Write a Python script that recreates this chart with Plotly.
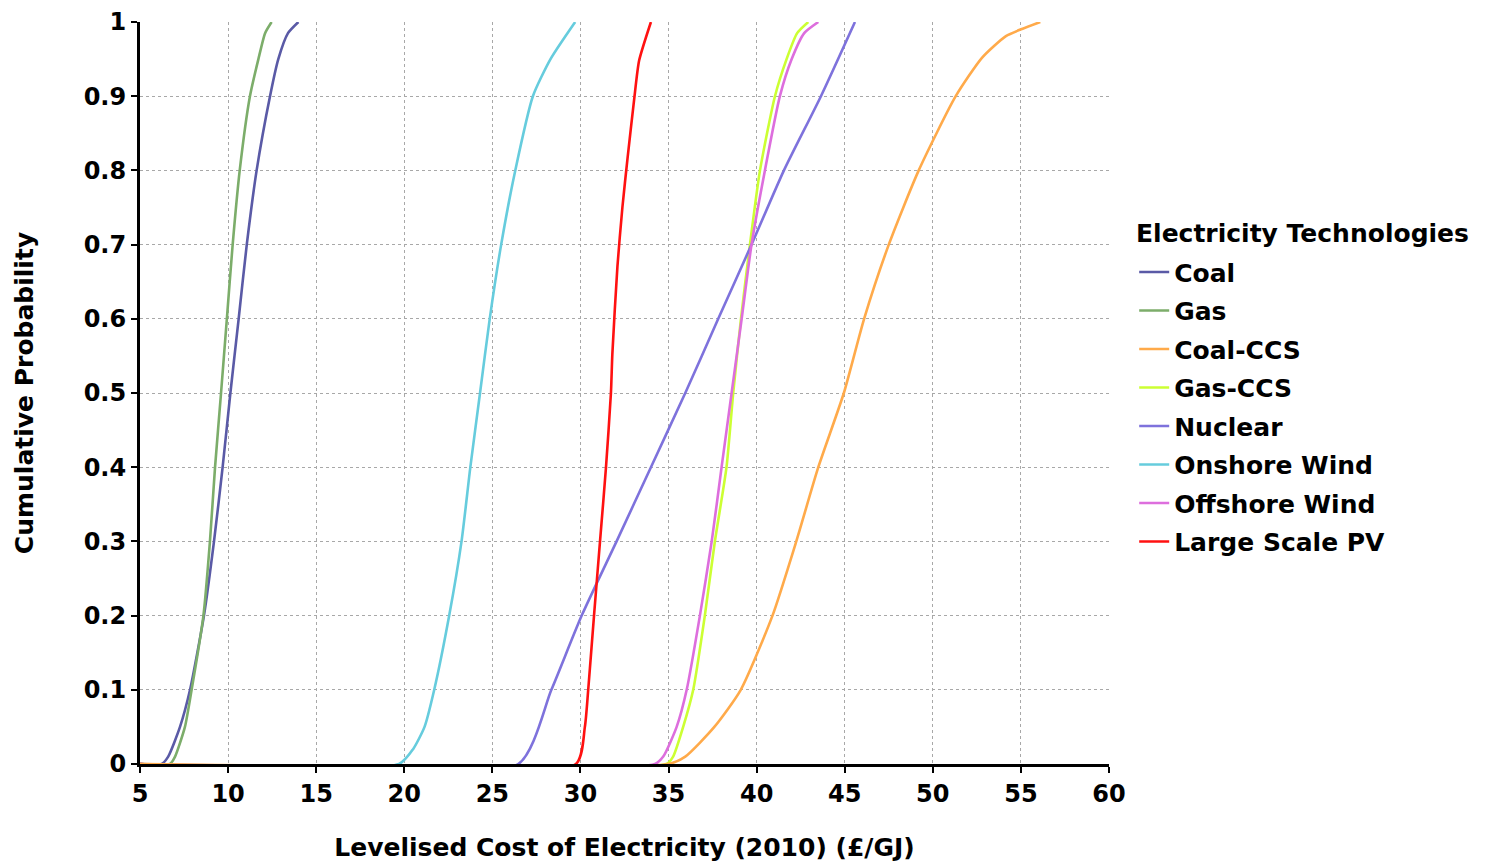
import plotly.graph_objects as go

# Levelised cost (£/GJ) at selected cumulative probability levels, per technology
coal_cost = [5, 6.23, 6.6, 7.27, 7.84, 8.63, 9.2, 9.69, 10.13, 10.6, 11.06, 11.62, 12.38, 12.85, 13.4, 13.99]
coal_prob = [0, 0, 0.01, 0.05, 0.1, 0.2, 0.3, 0.4, 0.5, 0.6, 0.7, 0.8, 0.9, 0.95, 0.985, 1.0]

gas_cost = [5, 6.7, 6.99, 7.55, 7.93, 8.6, 8.97, 9.26, 9.6, 9.93, 10.26, 10.66, 11.24, 11.72, 12.1, 12.47]
gas_prob = [0, 0, 0.01, 0.05, 0.1, 0.2, 0.3, 0.4, 0.5, 0.6, 0.7, 0.8, 0.9, 0.95, 0.985, 1.0]

coalccs_cost = [5, 35.0, 35.95, 37.6, 39.1, 40.9, 42.25, 43.5, 44.95, 46.1, 47.5, 49.2,
                51.3, 52.8, 54.15, 55.1, 56.1]
coalccs_prob = [0, 0, 0.01, 0.05, 0.1, 0.2, 0.3, 0.4, 0.5, 0.6, 0.7, 0.8,
                0.9, 0.952, 0.981, 0.991, 1.0]

gasccs_cost = [5, 34.88, 35.26, 35.83, 36.4, 37.06, 37.63, 38.29, 38.67, 39.11, 39.62, 40.19,
               41.04, 41.7, 42.3, 42.93]
gasccs_prob = [0, 0, 0.01, 0.05, 0.1, 0.2, 0.3, 0.4, 0.5, 0.6, 0.7, 0.8,
               0.9, 0.95, 0.985, 1.0]

nuclear_cost = [5, 26.47, 28.35, 30.07, 32.05, 34.0, 35.95, 37.82, 39.71, 41.55, 43.65, 45.58]
nuclear_prob = [0, 0, 0.1, 0.2, 0.3, 0.4, 0.5, 0.6, 0.7, 0.8, 0.9, 1.0]

onshore_cost = [5, 19.7, 20.5, 21.15, 21.7, 22.55, 23.25, 23.75, 24.3, 24.85, 25.5, 26.3,
                27.3, 28.3, 29.7]
onshore_prob = [0, 0, 0.02, 0.05, 0.1, 0.2, 0.3, 0.4, 0.5, 0.6, 0.7, 0.8, 0.9, 0.95, 1.0]

offshore_cost = [5, 34.23, 34.7, 35.46, 36.03, 36.78, 37.45, 38.01, 38.58, 39.15, 39.71, 40.47,
                 41.32, 41.99, 42.7, 43.5]
offshore_prob = [0, 0, 0.01, 0.05, 0.1, 0.2, 0.3, 0.4, 0.5, 0.6, 0.7, 0.8,
                 0.9, 0.95, 0.985, 1.0]

pv_cost = [5, 29.74, 30.25, 30.44, 30.77, 31.11, 31.45, 31.73, 31.81, 32.1, 32.38, 32.67, 33.05,
           33.33, 34.0]
pv_prob = [0, 0, 0.05, 0.1, 0.2, 0.3, 0.4, 0.5, 0.552, 0.671, 0.75, 0.816, 0.896, 0.948, 1.0]

x_ticks = [5, 10, 15, 20, 25, 30, 35, 40, 45, 50, 55, 60]
y_ticks = [0, 0.1, 0.2, 0.3, 0.4, 0.5, 0.6, 0.7, 0.8, 0.9, 1]
y_labels = ["0", "0.1", "0.2", "0.3", "0.4", "0.5", "0.6", "0.7", "0.8", "0.9", "1"]

series = [
    ("Coal", coal_cost, coal_prob, "#5a5aa6", 1),
    ("Gas", gas_cost, gas_prob, "#7cad6a", 2),
    ("Gas-CCS", gasccs_cost, gasccs_prob, "#ccff33", 4),
    ("Nuclear", nuclear_cost, nuclear_prob, "#7e72dc", 5),
    ("Onshore Wind", onshore_cost, onshore_prob, "#66ccdd", 6),
    ("Offshore Wind", offshore_cost, offshore_prob, "#dd6edd", 7),
    ("Large Scale PV", pv_cost, pv_prob, "#ff1111", 8),
    ("Coal-CCS", coalccs_cost, coalccs_prob, "#ffaa4a", 3),
]

FONT = "DejaVu Sans"

fig = go.Figure()
for name, xs, ys, color, rank in series:
    fig.add_trace(go.Scatter(
        x=xs, y=ys, mode="lines", name=name, legendrank=rank, legendgroup=name,
        line=dict(color=color, width=2.6, shape="spline", smoothing=0.6),
    ))

# Legend heading drawn as its own label above the entries
fig.add_annotation(
    text="<b>Electricity Technologies</b>", xref="paper", yref="paper",
    x=1.0259, y=0.7143, xanchor="left", yanchor="middle", showarrow=False,
    font=dict(size=25, family=FONT, color="black"),
)

fig.update_layout(
    width=1486, height=864,
    margin=dict(l=140, r=377, t=22, b=100),
    paper_bgcolor="white", plot_bgcolor="white",
    font=dict(family=FONT, color="black", size=24),
    legend=dict(
        font=dict(size=25, family=FONT, weight="bold"),
        x=1.026, y=0.6937, xanchor="left", yanchor="top",
        itemwidth=30, traceorder="grouped", tracegroupgap=3,
        bgcolor="rgba(0,0,0,0)",
    ),
    xaxis=dict(
        range=[5, 60], tickvals=x_ticks, ticktext=[str(v) for v in x_ticks],
        showgrid=True, gridcolor="#a8a8a8", griddash="dot", gridwidth=1,
        showline=True, linecolor="black", linewidth=3,
        ticks="outside", ticklen=6, tickwidth=2, tickcolor="black",
        tickfont=dict(size=24, family=FONT, weight="bold"),
        title=dict(text="<b>Levelised Cost of Electricity (2010) (£/GJ)</b>",
                   font=dict(size=25, family=FONT), standoff=32),
        zeroline=False, automargin=False, layer="below traces",
    ),
    yaxis=dict(
        range=[0, 1], tickvals=y_ticks, ticktext=y_labels,
        showgrid=True, gridcolor="#a8a8a8", griddash="dot", gridwidth=1,
        showline=True, linecolor="black", linewidth=3,
        ticks="outside", ticklen=6, tickwidth=2, tickcolor="black",
        tickfont=dict(size=24, family=FONT, weight="bold"),
        title=dict(text="<b>Cumulative Probability</b>",
                   font=dict(size=25, family=FONT), standoff=43),
        zeroline=False, automargin=False, layer="below traces",
    ),
)

fig.write_html("out.html")
